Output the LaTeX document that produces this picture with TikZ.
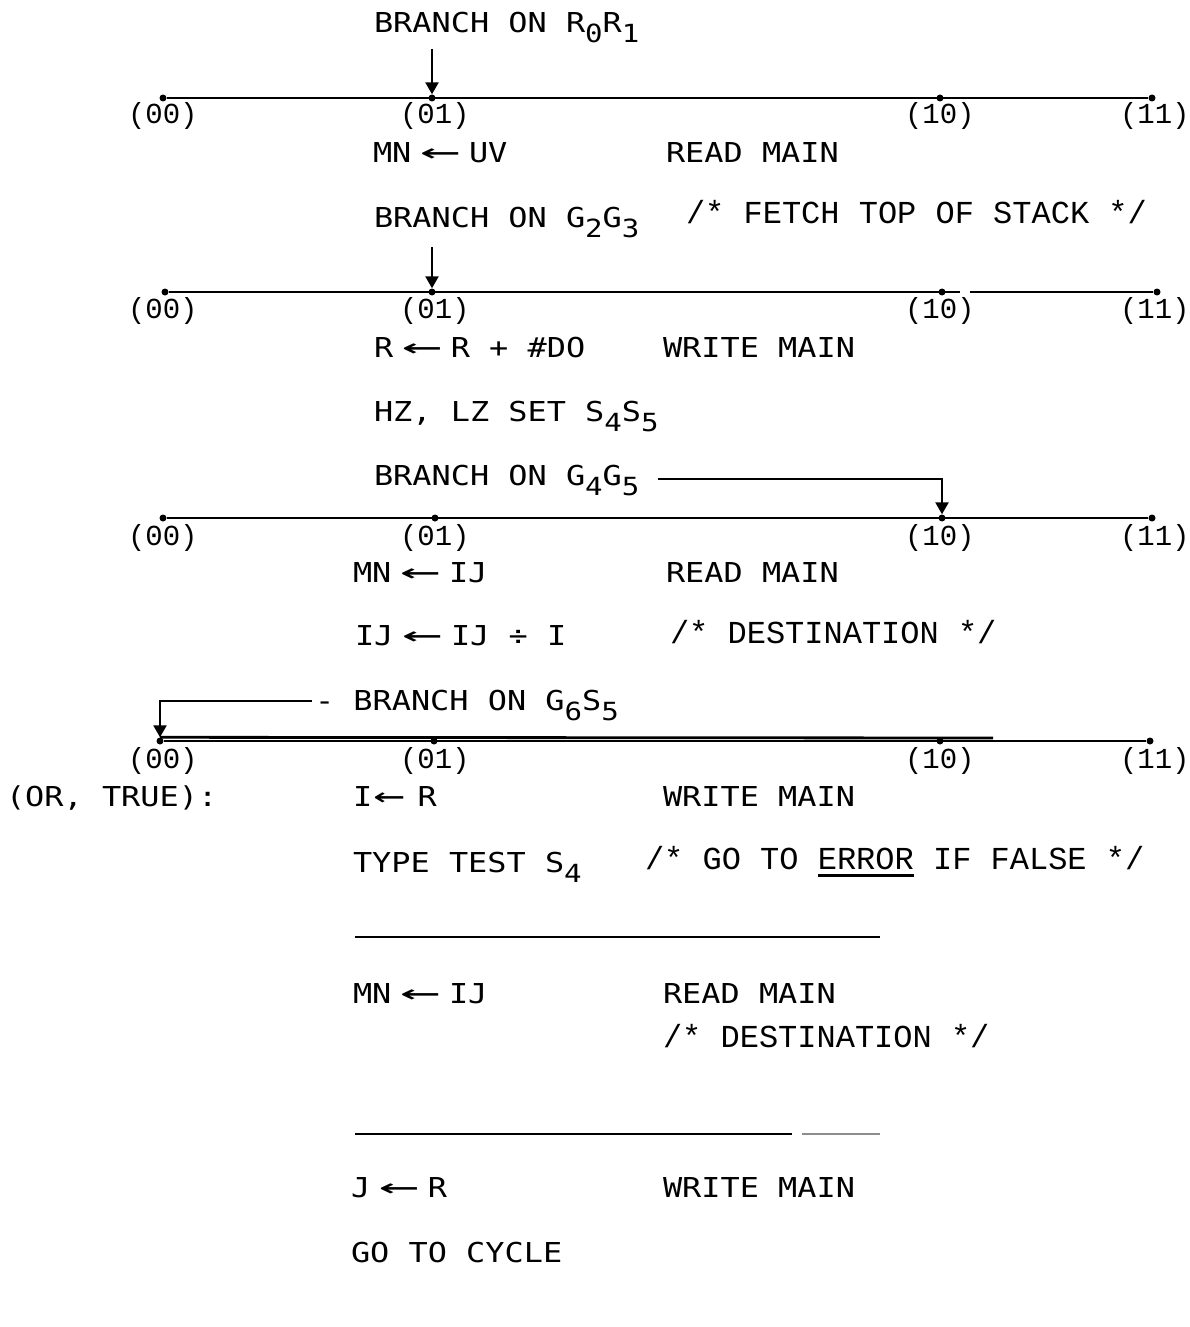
\documentclass[tikz,border=0pt]{standalone}
\usepackage{fontspec}
\usepackage{graphicx}
\usetikzlibrary{arrows.meta}
\newfontfamily\twfont{DejaVu Sans Mono}
\newfontfamily\cmfont{Liberation Mono}
\newcommand\M[1]{\scalebox{1.164}[1]{\fontsize{27.4pt}{30pt}\selectfont\twfont #1}}
\newcommand\lo[1]{\raisebox{-10pt}{\fontsize{25pt}{28pt}\selectfont #1}}
\newcommand\la{\makebox[16.5pt][c]{\scalebox{2.1}[1.15]{←}}}
\newcommand\lal{\makebox[16.5pt][l]{\hspace{1pt}\scalebox{1.65}[1.15]{←}}}
\newcommand\C[1]{{\fontsize{32pt}{34pt}\selectfont\cmfont #1}}
\newcommand\lab[1]{{\fontsize{29pt}{31pt}\selectfont\cmfont #1}}
\newcommand\errul[1]{\vtop{\hbox{#1}\kern5pt\hrule height 2.4pt}}
\tikzset{
  txt/.style={anchor=base west, inner sep=0pt, outer sep=0pt},
  dot/.style={circle, fill=black, inner sep=0pt, minimum size=7pt},
  bus/.style={line width=2.8pt},
  arr/.style={line width=2.4pt, -{Triangle[width=13pt,length=12pt]}},
  sepline/.style={line width=2.4pt}
}
\begin{document}
\begin{tikzpicture}[x=1pt,y=-1pt]
\useasboundingbox[fill=white] (0,0) rectangle (1189,1327);

% ---------- row 1 ----------
\node[txt] (t1) at (374,33) {\M{BRANCH ON R\lo{0}R\lo{1}}};
\node[dot] (r1a) at (163,98) {};
\node[dot] (r1b) at (432,98) {};
\node[dot] (r1c) at (940,98) {};
\node[dot] (r1d) at (1152,98) {};
\draw[bus] (r1a) -- (r1d);
\coordinate (a1s) at (432,49);
\draw[arr] (a1s) -- (r1b);
\node[txt] (l1a) at (128,124) {\lab{(00)}};
\node[txt] (l1b) at (400,124) {\lab{(01)}};
\node[txt] (l1c) at (905,124) {\lab{(10)}};
\node[txt] (l1d) at (1120,124) {\lab{(11)}};
\node[txt] (t2) at (373,162) {\M{MN \la\ UV}};
\node[txt] (t3) at (666,162) {\M{READ MAIN}};

% ---------- row 2 ----------
\node[txt] (t4) at (374,227) {\M{BRANCH ON G\lo{2}G\lo{3}}};
\node[txt] (c1) at (686,223) {\C{/* FETCH TOP OF STACK */}};
\node[dot] (r2a) at (165,292) {};
\node[dot] (r2b) at (432,292) {};
\node[dot] (r2c) at (942,292) {};
\node[dot] (r2d) at (1157,292) {};
\coordinate (g2l) at (960,292);
\coordinate (g2r) at (970,292);
\draw[bus] (r2a) -- (g2l);
\draw[bus] (g2r) -- (r2d);
\coordinate (a2s) at (432,247);
\draw[arr] (a2s) -- (r2b);
\node[txt] (l2a) at (128,318) {\lab{(00)}};
\node[txt] (l2b) at (400,318) {\lab{(01)}};
\node[txt] (l2c) at (905,318) {\lab{(10)}};
\node[txt] (l2d) at (1120,318) {\lab{(11)}};
\node[txt] (t5) at (374,357) {\M{R \la\ R + \#DO}};
\node[txt] (t6) at (663,357) {\M{WRITE MAIN}};
\node[txt] (t7) at (374,421) {\M{HZ, LZ SET S\lo{4}S\lo{5}}};

% ---------- row 3 ----------
\node[txt] (t8) at (374,485) {\M{BRANCH ON G\lo{4}G\lo{5}}};
\node[dot] (r3a) at (163,518) {};
\node[dot] (r3b) at (435,518) {};
\node[dot] (r3c) at (942,518) {};
\node[dot] (r3d) at (1152,518) {};
\draw[bus] (r3a) -- (r3d);
\coordinate (a3s) at (658,479);
\draw[arr] (a3s) -| (r3c);
\node[txt] (l3a) at (128,545) {\lab{(00)}};
\node[txt] (l3b) at (400,545) {\lab{(01)}};
\node[txt] (l3c) at (905,545) {\lab{(10)}};
\node[txt] (l3d) at (1120,545) {\lab{(11)}};
\node[txt] (t9) at (353,582) {\M{MN \la\ IJ}};
\node[txt] (t10) at (666,582) {\M{READ MAIN}};
\node[txt] (t11) at (355,645) {\M{IJ \la\ IJ ÷ I}};
\node[txt] (c2) at (670,643) {\C{/* DESTINATION */}};

% ---------- row 4 ----------
\node[txt] (t12) at (315,710) {\M{- BRANCH ON G\lo{6}S\lo{5}}};
\node[dot] (r4a) at (160,741) {};
\node[dot] (r4b) at (434,741) {};
\node[dot] (r4c) at (940,741) {};
\node[dot] (r4d) at (1150,741) {};
\coordinate (d4e) at (993,738);
\draw[bus] (r4a) -- (r4d);
\draw[bus] (r4a.north) -- (d4e);
\coordinate (a4s) at (312,701);
\draw[arr] (a4s) -| (r4a);
\node[txt] (l4a) at (128,768) {\lab{(00)}};
\node[txt] (l4b) at (400,768) {\lab{(01)}};
\node[txt] (l4c) at (905,768) {\lab{(10)}};
\node[txt] (l4d) at (1120,768) {\lab{(11)}};
\node[txt] (t13) at (6,806) {\M{(OR, TRUE):}};
\node[txt] (t14) at (353,806) {\M{I\lal\ \kern6pt R}};
\node[txt] (t15) at (663,806) {\M{WRITE MAIN}};
\node[txt] (t16) at (353,872) {\M{TYPE TEST S\lo{4}}};
\node[txt] (c3) at (645,869) {\C{/* GO TO \errul{ERROR} IF FALSE */}};

% ---------- separators and tail ----------
\coordinate (s1a) at (355,937);
\coordinate (s1b) at (880,937);
\draw[sepline] (s1a) -- (s1b);
\node[txt] (t17) at (353,1003) {\M{MN \la\ IJ}};
\node[txt] (t18) at (663,1003) {\M{READ MAIN}};
\node[txt] (c4) at (663,1047) {\C{/* DESTINATION */}};
\coordinate (s2a) at (355,1134);
\coordinate (s2b) at (792,1134);
\coordinate (s2c) at (802,1134);
\coordinate (s2d) at (880,1134);
\draw[sepline] (s2a) -- (s2b);
\draw[sepline, black!45] (s2c) -- (s2d);
\node[txt] (t19) at (351,1197) {\M{J \la\ R}};
\node[txt] (t20) at (663,1197) {\M{WRITE MAIN}};
\node[txt] (t21) at (351,1262) {\M{GO TO CYCLE}};
\end{tikzpicture}
\end{document}
